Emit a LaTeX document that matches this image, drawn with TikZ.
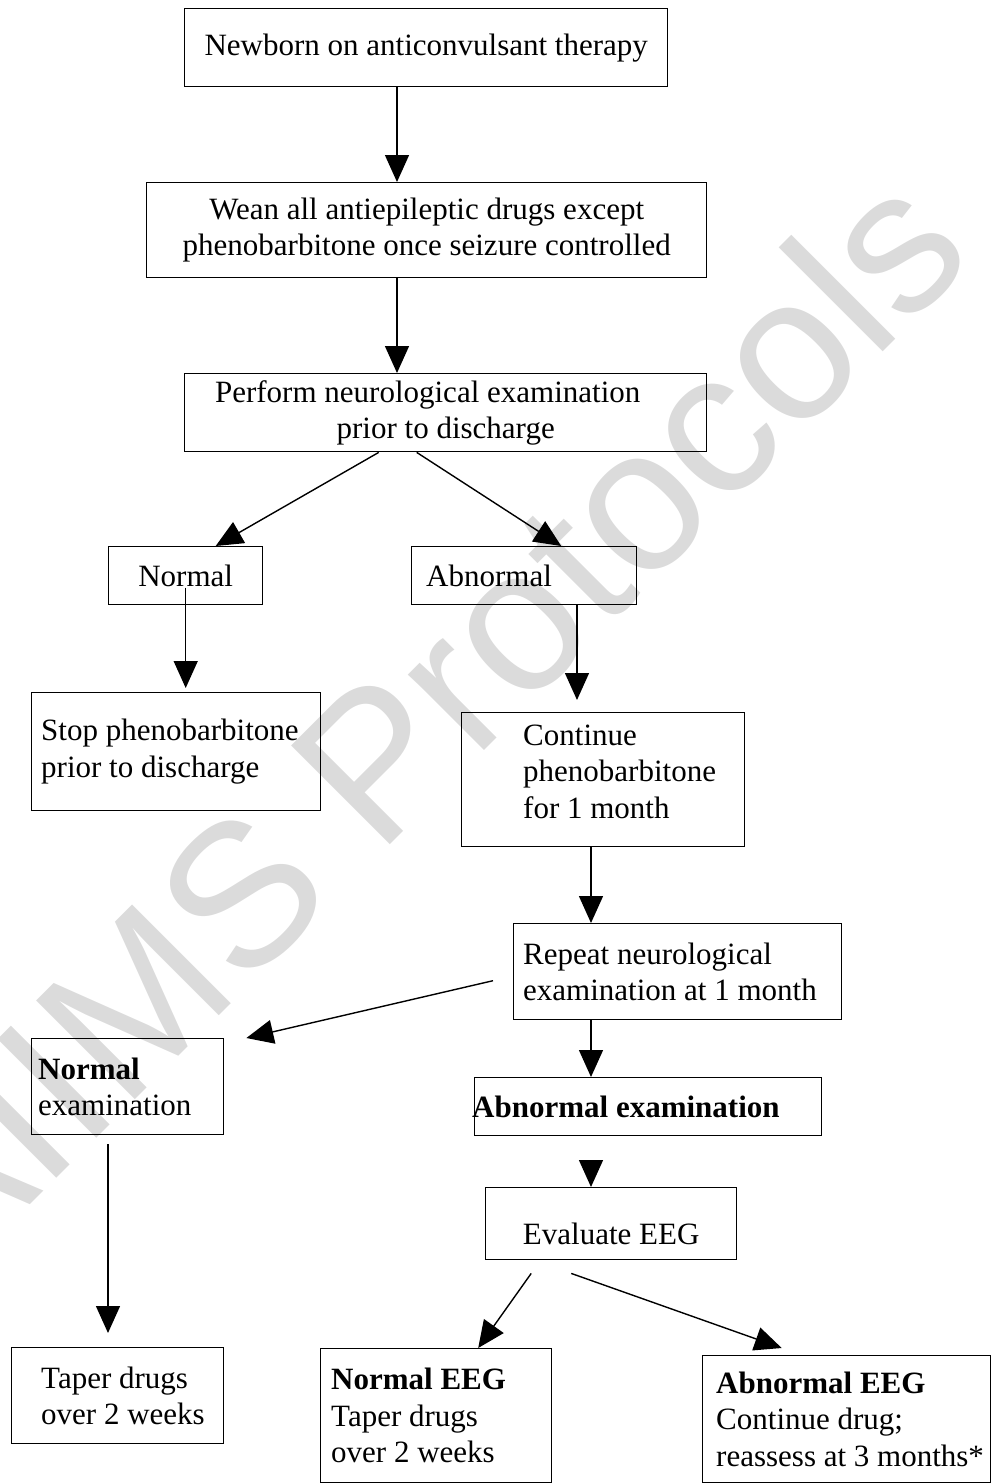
\documentclass[tikz,border=0pt]{standalone}
\usepackage{fontspec}
\setmainfont{Liberation Serif}
\newfontfamily\wmfont{Liberation Sans}
\usetikzlibrary{arrows.meta,positioning}

\tikzset{
  box/.style={draw, line width=1.4pt, anchor=north west, inner sep=0pt},
  txt/.style={anchor=west, align=left, inner sep=0pt},
  arr/.style={line width=1.4pt, -{Triangle[length=27pt,width=24pt]}},
}

\begin{document}
\begin{tikzpicture}[x=1pt,y=1pt,font=\fontsize{31}{36.5}\selectfont]
\useasboundingbox (0,0) rectangle (992,-1483);
% watermark
\node[rotate=45, anchor=base west, inner sep=0pt, text=black!14, font=\wmfont\fontsize{203}{203}\selectfont] (wm) at (-52,-1287) {AIIMS Protocols};

% boxes
\node[box, minimum width=483pt, minimum height=78pt, align=center] (new) at (184,-8) {Newborn on anticonvulsant therapy};
\node[box, minimum width=560pt, minimum height=95pt, align=center] (wean) at (146,-182) {Wean all antiepileptic drugs except\\phenobarbitone once seizure controlled};
\node[box, minimum width=522pt, minimum height=78pt, align=center] (pnx) at (184,-373) {Perform neurological examination\hspace*{36pt}\\prior to discharge};
\node[box, minimum width=154pt, minimum height=58pt] (nrm) at (108,-546) {Normal};
\node[box, minimum width=225pt, minimum height=58pt] (abn) at (411,-546) {};
\node[txt, right=15pt of abn.west] (abnt) {Abnormal};
\node[box, minimum width=289pt, minimum height=118pt] (stp) at (31,-692) {};
\node[txt, right=10pt of stp.west] (stpt) {Stop phenobarbitone\\prior to discharge};
\node[box, minimum width=283pt, minimum height=134pt] (cnt) at (461,-712) {};
\node[txt, right=62pt of cnt.west, yshift=8pt] (cntt) {Continue\\phenobarbitone\\for 1 month};
\node[box, minimum width=328pt, minimum height=96pt] (rep) at (513,-923) {};
\node[txt, right=10pt of rep.west] (rept) {Repeat neurological\\examination at 1 month};
\node[box, minimum width=192pt, minimum height=96pt] (nex) at (31,-1038) {};
\node[txt, right=7pt of nex.west] (next) {\textbf{Normal}\\examination};
\node[box, minimum width=347pt, minimum height=58pt] (aex) at (474,-1077) {};
\node[txt, right=-2pt of aex.west] (aext) {\textbf{Abnormal examination}};
\node[box, minimum width=251pt, minimum height=72pt] (evl) at (485,-1187) {};
\node[txt, anchor=center] (evlt) at ([yshift=-10pt]evl.center) {Evaluate EEG};
\node[box, minimum width=212pt, minimum height=96pt] (tpr) at (11,-1347) {};
\node[txt, right=30pt of tpr.west] (tprt) {Taper drugs\\over 2 weeks};
\node[box, minimum width=231pt, minimum height=134pt] (neg) at (320,-1348) {};
\node[txt, right=11pt of neg.west] (negt) {\textbf{Normal EEG}\\Taper drugs\\over 2 weeks};
\node[box, minimum width=288pt, minimum height=127pt] (aeg) at (702,-1355) {};
\node[txt, right=14pt of aeg.west] (aegt) {\textbf{Abnormal EEG}\\Continue drug;\\reassess at 3 months*};

% arrow columns
\coordinate (xa) at (397,0);
\coordinate (xc) at (577,0);
\coordinate (xd) at (591,0);
\coordinate (xe) at (108,0);

% connectors
\draw[arr] (new.south -| xa) -- (wean.north -| xa);
\draw[arr] (wean.south -| xa) -- (pnx.north -| xa);
\draw[arr] ([xshift=-67pt]pnx.south) -- ([xshift=30pt]nrm.north);
\draw[arr] ([xshift=-29pt]pnx.south) -- ([xshift=37pt]abn.north);
\draw[arr, shorten >=4pt] ([yshift=-12pt]nrm.center) -- (nrm.center |- stp.north);
\draw[arr, shorten >=12pt] (abn.south -| xc) -- (cnt.north -| xc);
\draw[arr] (cnt.south -| xd) -- (rep.north -| xd);
\draw[arr] ([shift={(-20pt,-9pt)}]rep.west) -- ([xshift=22pt]nex.north east);
\draw[arr] (rep.south -| xd) -- (aex.north -| xd);
\draw[arr, shorten <=25pt] (aex.south -| xd) -- (evl.north -| xd);
\draw[arr, shorten <=9pt, shorten >=14pt] (nex.south -| xe) -- (tpr.north -| xe);
\draw[arr] ([shift={(-80pt,-13pt)}]evl.south) -- ([xshift=42pt]neg.north);
\draw[arr] ([shift={(-40pt,-13pt)}]evl.south) -- ([shift={(-65pt,7pt)}]aeg.north);
\end{tikzpicture}
\end{document}
